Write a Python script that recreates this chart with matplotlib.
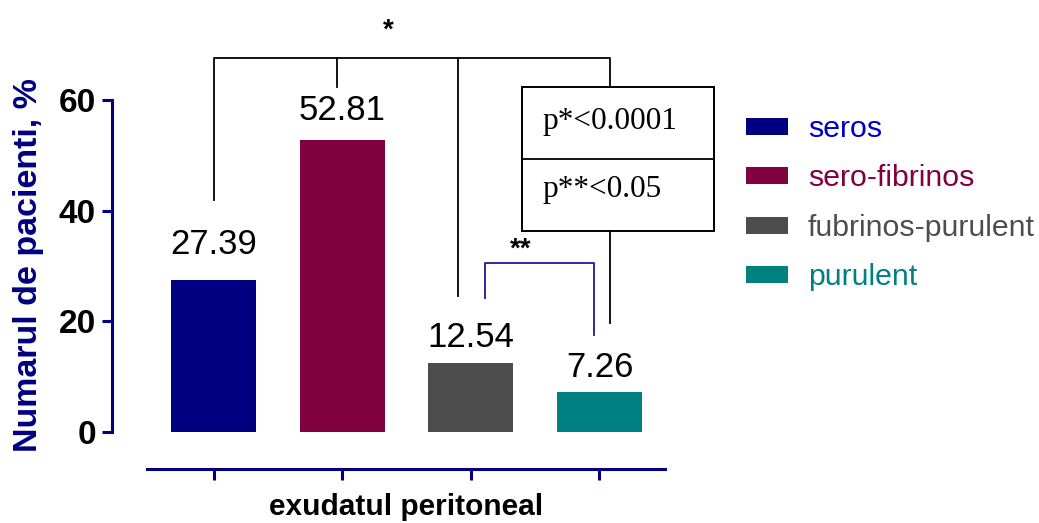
import matplotlib
matplotlib.use("Agg")
import matplotlib.pyplot as plt
from matplotlib.patches import Patch, Rectangle

plt.rcParams['font.family'] = ['Liberation Sans', 'DejaVu Sans']

categories = ['seros', 'sero-fibrinos', 'fubrinos-purulent', 'purulent']
values = [27.39, 52.81, 12.54, 7.26]
colors = ['#000080', '#800040', '#4D4D4D', '#008080']
label_colors = ['#0000C8', '#800040', '#4D4D4D', '#008080']
label_gap = [19, 14, 11, 11]  # points between bar top and value label
yticks = [0, 20, 40, 60]
navy = '#000080'

fig = plt.figure(figsize=(10.39, 5.23), dpi=100)
ax = fig.add_axes([147 / 1039, 1 - 432 / 523, 518 / 1039, 332 / 523])

# offset spines first: set_position resets the tick objects
for side in ('top', 'right'):
    ax.spines[side].set_visible(False)
ax.spines['left'].set_position(('outward', 25.2))
ax.spines['bottom'].set_position(('outward', 26.6))
for side in ('left', 'bottom'):
    ax.spines[side].set_color(navy)
    ax.spines[side].set_linewidth(2.2)

x = list(range(len(values)))
ax.bar(x, values, width=0.66, color=colors, linewidth=0)
for xi, v, g in zip(x, values, label_gap):
    ax.annotate(f'{v:.2f}', (xi, v), xytext=(0, g), textcoords='offset points',
                ha='center', va='baseline', fontsize=25, color='black')

ax.set_xlim(-0.52, 3.51)
ax.set_ylim(0, 60)
ax.set_xticks(x)
ax.set_xticklabels([])
ax.set_yticks(yticks)
ax.tick_params(axis='y', length=7.5, width=2.2, color=navy, pad=4, labelsize=24)
ax.tick_params(axis='x', length=8, width=2.2, color=navy)
for lab in ax.get_yticklabels():
    lab.set_fontweight('bold')

fig.text(29 / 1039, 1 - 265 / 523, 'Numarul de pacienti, %', rotation=90,
         ha='center', va='center', fontsize=24.5, fontweight='bold', color=navy)
fig.text(406 / 1039, 1 - 507 / 523, 'exudatul peritoneal', ha='center', va='center',
         fontsize=21.5, fontweight='bold', color='black')

# significance brackets
lk = dict(color='black', lw=1.3, clip_on=False)
top_y = 67.6
ax.plot([0, 0, 3.08, 3.08], [42.0, top_y, top_y, 62.4], **lk)
ax.plot([0.96, 0.96], [top_y, 62.4], **lk)
ax.plot([1.9, 1.9], [top_y, 24.6], **lk)
ax.plot([3.08, 3.08], [36.3, 19.7], **lk)
ax.text(1.36, 72.5, '*', ha='center', va='center', fontsize=20, fontweight='bold')

ax.plot([2.11, 2.11, 2.96, 2.96], [24.2, 30.6, 30.6, 17.5], color='#1a1a9a', lw=1.3, clip_on=False)
ax.text(2.385, 33.0, '**', ha='center', va='center', fontsize=20, fontweight='bold')

# p-value box
box = Rectangle((2.40, 36.3), 1.495, 26.1, fill=False, edgecolor='black', lw=1.4, clip_on=False)
ax.add_patch(box)
ax.plot([2.40, 3.895], [49.4, 49.4], **lk)
ax.text(2.56, 56.1, 'p*<0.0001', ha='left', va='center', fontsize=22.5,
        family=['Liberation Serif'])
ax.text(2.56, 43.9, 'p**<0.05', ha='left', va='center', fontsize=22.5,
        family=['Liberation Serif'])

handles = [Patch(facecolor=c, edgecolor='none') for c in colors]
leg = fig.legend(handles, categories, loc='upper left', bbox_to_anchor=(746 / 1039, 1 - 115 / 523),
                 frameon=False, fontsize=21.8, handlelength=1.4, handleheight=0.48,
                 handletextpad=0.65, labelspacing=0.71, borderpad=0, borderaxespad=0)
for t, c in zip(leg.get_texts(), label_colors):
    t.set_color(c)

fig.savefig('out.png', dpi=100)
